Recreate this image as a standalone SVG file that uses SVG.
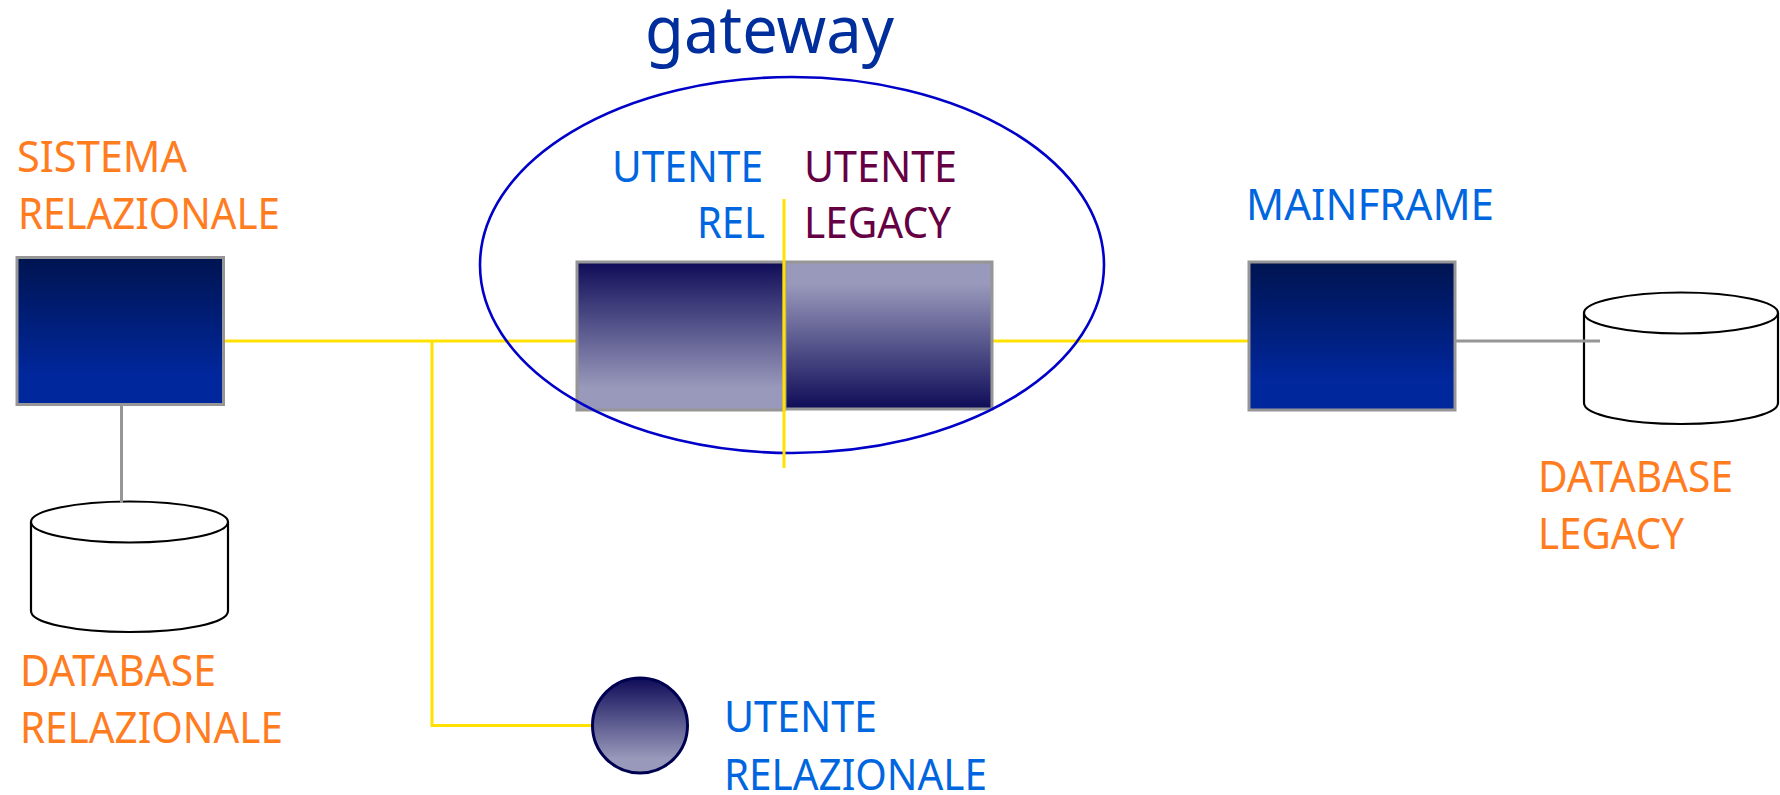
<svg xmlns="http://www.w3.org/2000/svg" width="1780" height="795" viewBox="0 0 1780 795">
<defs>
<linearGradient id="navy" x1="0" y1="0" x2="0" y2="1"><stop offset="0" stop-color="#001450"/><stop offset="0.8" stop-color="#00279C"/><stop offset="1" stop-color="#00279C"/></linearGradient>
<linearGradient id="fade" x1="0" y1="0" x2="0" y2="1"><stop offset="0" stop-color="#0F0C58"/><stop offset="0.85" stop-color="#9999BB"/><stop offset="1" stop-color="#9999BB"/></linearGradient>
<linearGradient id="fadeUp" x1="0" y1="1" x2="0" y2="0"><stop offset="0" stop-color="#0F0C58"/><stop offset="0.85" stop-color="#9999BB"/><stop offset="1" stop-color="#9999BB"/></linearGradient>
</defs>
<style>
text{font-family:"Noto Sans","Open Sans","Liberation Sans",sans-serif;font-size:43px}
.o{fill:#FF7C1F}.b{fill:#0066E0}.p{fill:#660044}
.box{stroke:#969696;stroke-width:3}
.y{stroke:#FFE100;stroke-width:3;fill:none}
.g{stroke:#969696;stroke-width:3;fill:none}
.c{fill:#fff;stroke:#000;stroke-width:2.200}
</style>
<g id="connectors">
<path class="y" d="M225 341H577M432 341V725.500H592"/>
<path class="y" d="M993 341H1248"/>
<path class="g" d="M121.500 406V503"/>
</g>
<g id="sistema-relazionale">
<rect class="box" x="17" y="257.500" width="206.500" height="147" fill="url(#navy)"/>
<text class="o" x="17" y="172" textLength="170" lengthAdjust="spacingAndGlyphs">SISTEMA</text>
<text class="o" x="18" y="229" textLength="262" lengthAdjust="spacingAndGlyphs">RELAZIONALE</text>
</g>
<g id="database-relazionale">
<path class="c" d="M31 522V611C31 623 75 632 129.500 632S228 623 228 611V522"/>
<ellipse class="c" cx="129.500" cy="522" rx="98.500" ry="20.500"/>
<path class="g" d="M121.500 500V503"/>
<text class="o" x="20" y="686" textLength="196" lengthAdjust="spacingAndGlyphs">DATABASE</text>
<text class="o" x="20" y="743" textLength="263" lengthAdjust="spacingAndGlyphs">RELAZIONALE</text>
</g>
<g id="gateway">
<rect class="box" x="577" y="262" width="207" height="148" fill="url(#fade)"/>
<rect class="box" x="785" y="262" width="207" height="147" fill="url(#fadeUp)"/>
<ellipse cx="792" cy="265" rx="312" ry="188" fill="none" stroke="#0000C8" stroke-width="2.600"/>
<path class="y" d="M784 199V468"/>
<text x="645" y="53" fill="#002E9C" style="font-size:66px" textLength="249" lengthAdjust="spacingAndGlyphs">gateway</text>
<text class="b" x="612" y="182" textLength="151" lengthAdjust="spacingAndGlyphs">UTENTE</text>
<text class="b" x="697" y="238" textLength="68" lengthAdjust="spacingAndGlyphs">REL</text>
<text class="p" x="804" y="182" textLength="153" lengthAdjust="spacingAndGlyphs">UTENTE</text>
<text class="p" x="804" y="238" textLength="147" lengthAdjust="spacingAndGlyphs">LEGACY</text>
</g>
<g id="mainframe">
<rect class="box" x="1249" y="262" width="206" height="148" fill="url(#navy)"/>
<text class="b" x="1246" y="220" textLength="248" lengthAdjust="spacingAndGlyphs">MAINFRAME</text>
</g>
<g id="database-legacy">
<path class="c" d="M1584 313V403C1584 415 1628 424 1681 424S1778 415 1778 403V313"/>
<ellipse class="c" cx="1681" cy="313" rx="97" ry="20.500"/>
<path class="g" d="M1456 341H1600"/>
<text class="o" x="1538" y="492" textLength="195" lengthAdjust="spacingAndGlyphs">DATABASE</text>
<text class="o" x="1538" y="549" textLength="146" lengthAdjust="spacingAndGlyphs">LEGACY</text>
</g>
<g id="utente-relazionale">
<ellipse cx="640" cy="725.500" rx="47.500" ry="47.500" fill="url(#fade)" stroke="#000050" stroke-width="3"/>
<text class="b" x="724" y="732" textLength="153" lengthAdjust="spacingAndGlyphs">UTENTE</text>
<text class="b" x="724" y="790" textLength="263" lengthAdjust="spacingAndGlyphs">RELAZIONALE</text>
</g>
</svg>
